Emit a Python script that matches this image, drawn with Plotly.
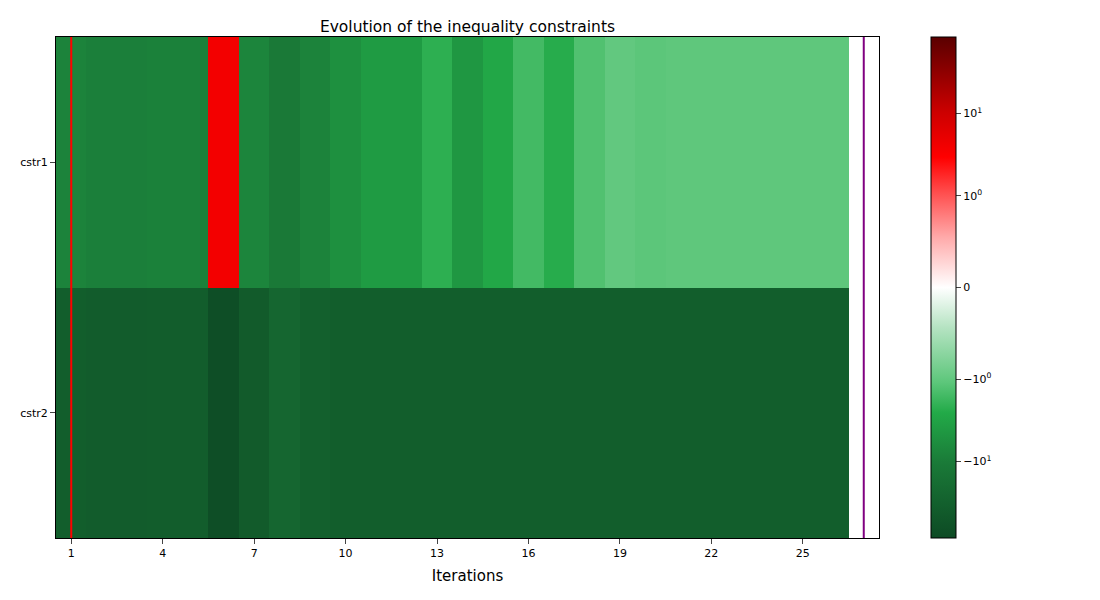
import numpy as np
import plotly.graph_objects as go

iterations = list(range(1, 28))
constraints = ["cstr1", "cstr2"]
cstr1 = [-8, -9, -9, -8.5, -8.5, 4, -7.5, -11, -8, -5.5, -4, -4, -2.2, -4.5, -2.8, -1.6, -2.4,
         -1.3, -1.0, -1.1, -1.05, -1.05, -1.05, -1.05, -1.05, -1.05, None]
cstr2 = [-36, -38, -38, -37, -37, -70, -40, -25, -32, -35, -35, -35, -35, -35, -35, -35, -35,
         -35, -35, -35, -35, -35, -35, -35, -35, -35, None]
tick_vals = [-10, -1, 0, 1, 10]
tick_text = ["−10<sup>1</sup>", "−10<sup>0</sup>", "0", "10<sup>0</sup>", "10<sup>1</sup>"]
vlim = 85.0

def symlog(v):
    if v is None:
        return None
    a = abs(v)
    ls = 1 / (1 - 0.1)
    t = a * ls if a <= 1 else ls + np.log10(a)
    return float(np.sign(v) * t)

z = [[symlog(v) for v in cstr1], [symlog(v) for v in cstr2]]
tmax = symlog(vlim)

colorscale = [
    [0.0, "#0d4a24"], [0.15, "#1a7a38"], [0.25, "#22aa48"], [0.31, "#5cc67a"],
    [0.42, "#b5e3c2"], [0.5, "#ffffff"], [0.6, "#ffaaaa"], [0.69, "#ff4d4d"],
    [0.76, "#ff0000"], [0.85, "#cc0000"], [1.0, "#5a0000"],
]

fig = go.Figure(go.Heatmap(
    x=iterations, y=constraints, z=z, zmin=-tmax, zmax=tmax, colorscale=colorscale,
    hoverongaps=False,
    colorbar=dict(tickvals=[symlog(v) for v in tick_vals], ticktext=tick_text,
                  len=1.0, lenmode="fraction", thickness=25, x=1.063, xanchor="left",
                  y=0.5, ypad=0, xpad=0, outlinewidth=1, outlinecolor="black", ticks="outside",
                  tickfont=dict(size=11, color="black")),
))
fig.add_vline(x=1, line_color="red", line_width=2)
fig.add_vline(x=27, line_color="purple", line_width=2)
fig.update_layout(
    width=1100, height=600, paper_bgcolor="white", plot_bgcolor="white",
    margin=dict(l=48, r=229, t=29, b=70),
    title=dict(text="Evolution of the inequality constraints", x=0.5, xanchor="center",
               xref="paper", yref="paper", y=1.0, yanchor="bottom", pad=dict(b=5),
               font=dict(size=15.5, color="black")),
    font=dict(family="DejaVu Sans", color="black"),
    xaxis=dict(range=[0.5, 27.5], tickvals=list(range(1, 27, 3)), ticks="outside",
               title=dict(text="Iterations", font=dict(size=15), standoff=11), showgrid=False,
               mirror=True, showline=True, linecolor="black", zeroline=False,
               tickfont=dict(size=11)),
    yaxis=dict(autorange="reversed", ticks="outside", showgrid=False, mirror=True,
               showline=True, linecolor="black", tickfont=dict(size=11)),
)
fig.write_html("out.html")
